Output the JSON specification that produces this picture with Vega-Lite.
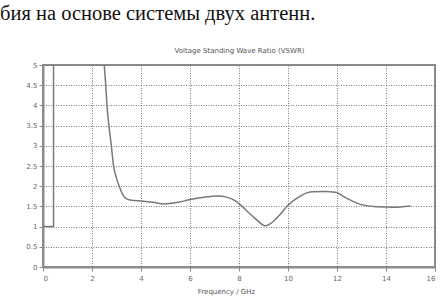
{
  "$schema": "https://vega.github.io/schema/vega-lite/v6.json",
  "width": 392,
  "height": 202,
  "autosize": {"type": "none"},
  "padding": {"left": 43, "top": 65, "right": 7, "bottom": 29},
  "background": "white",
  "title": {
    "text": "бия на основе системы двух антенн.",
    "anchor": "start",
    "frame": "group",
    "dx": -43,
    "offset": 22,
    "font": "Liberation Serif",
    "fontSize": 20.5,
    "fontWeight": "normal",
    "color": "#111"
  },
  "config": {
    "view": {"stroke": "#8c8c8c", "strokeWidth": 2},
    "axis": {
      "labelFont": "DejaVu Sans",
      "labelFontSize": 7,
      "labelColor": "#666",
      "titleFont": "DejaVu Sans",
      "titleFontSize": 7,
      "titleFontWeight": "normal",
      "titleColor": "#555",
      "gridColor": "#7a7a7a",
      "gridDash": [1, 1.5],
      "gridWidth": 1,
      "gridOpacity": 1,
      "domainColor": "#8c8c8c",
      "domainWidth": 2,
      "tickColor": "#8c8c8c",
      "tickSize": 4
    }
  },
  "datasets": {
    "vswr": [
      {"f": 2.5, "v": 5.0},
      {"f": 2.55, "v": 4.6},
      {"f": 2.61, "v": 4.0},
      {"f": 2.7, "v": 3.45},
      {"f": 2.79, "v": 3.0},
      {"f": 2.88, "v": 2.5},
      {"f": 3.0, "v": 2.2},
      {"f": 3.11, "v": 2.0},
      {"f": 3.25, "v": 1.8},
      {"f": 3.4, "v": 1.69},
      {"f": 3.6, "v": 1.65},
      {"f": 4.1, "v": 1.63},
      {"f": 4.5, "v": 1.6},
      {"f": 4.92, "v": 1.56},
      {"f": 5.5, "v": 1.6},
      {"f": 6.0, "v": 1.67},
      {"f": 6.5, "v": 1.72},
      {"f": 7.1, "v": 1.76},
      {"f": 7.5, "v": 1.73},
      {"f": 7.9, "v": 1.62},
      {"f": 8.3, "v": 1.4},
      {"f": 8.7, "v": 1.18},
      {"f": 9.07, "v": 1.02},
      {"f": 9.3, "v": 1.08},
      {"f": 9.6, "v": 1.25},
      {"f": 10.0, "v": 1.53},
      {"f": 10.4, "v": 1.72},
      {"f": 10.98, "v": 1.86},
      {"f": 11.5, "v": 1.87},
      {"f": 11.93, "v": 1.85},
      {"f": 12.4, "v": 1.7},
      {"f": 12.95, "v": 1.55},
      {"f": 13.6, "v": 1.49},
      {"f": 14.3, "v": 1.48},
      {"f": 15.0, "v": 1.51}
    ],
    "marker": [
      {"f": 0, "v": 1},
      {"f": 0.43, "v": 1},
      {"f": 0.43, "v": 5}
    ]
  },
  "resolve": {"axis": {"x": "independent"}},
  "layer": [
    {
      "data": {"name": "vswr"},
      "mark": {"type": "line", "interpolate": "monotone", "color": "#787878", "strokeWidth": 1.5},
      "encoding": {
        "x": {
          "field": "f", "type": "quantitative",
          "scale": {"domain": [0, 16], "nice": false},
          "axis": {
            "orient": "bottom",
            "values": [0, 2, 4, 6, 8, 10, 12, 14, 16],
            "title": "Frequency / GHz",
            "titlePadding": 6,
            "titleX": 183,
            "labelPadding": 3
          }
        },
        "y": {
          "field": "v", "type": "quantitative",
          "scale": {"domain": [0, 5], "nice": false},
          "axis": {
            "values": [0, 0.5, 1, 1.5, 2, 2.5, 3, 3.5, 4, 4.5, 5],
            "format": "~g",
            "title": null,
            "labelPadding": 2
          }
        }
      }
    },
    {
      "data": {"name": "marker"},
      "mark": {"type": "line", "color": "#7a7a7a", "strokeWidth": 1.5},
      "encoding": {
        "x": {
          "field": "f", "type": "quantitative",
          "axis": {
            "orient": "top",
            "title": "Voltage Standing Wave Ratio (VSWR)",
            "labels": false,
            "ticks": false,
            "domain": false,
            "grid": false,
            "titlePadding": 12
          }
        },
        "y": {
          "field": "v", "type": "quantitative",
          "axis": {
            "values": [0, 0.5, 1, 1.5, 2, 2.5, 3, 3.5, 4, 4.5, 5],
            "format": "~g",
            "title": null,
            "labelPadding": 2
          }
        },
        "order": {"field": "f"}
      }
    }
  ]
}
